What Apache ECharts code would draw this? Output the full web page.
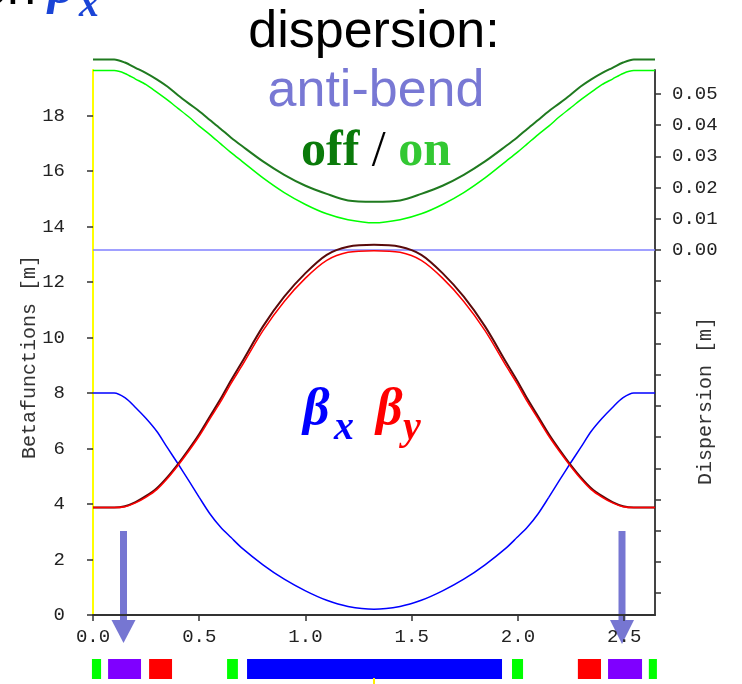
<!DOCTYPE html>
<html><head><meta charset="utf-8">
<script src="https://cdn.jsdelivr.net/npm/echarts@6/dist/echarts.min.js"></script>
<style>html,body{margin:0;padding:0;background:#fff}#c{width:742px;height:684px}</style>
</head><body><div id="c"></div>
<script>
// longitudinal position s [m]
const sPos = [0, 0.1, 0.15, 0.2, 0.25, 0.3, 0.35, 0.4, 0.45, 0.5, 0.55, 0.6, 0.65, 0.7, 0.8, 0.9, 1.0, 1.1, 1.2, 1.3225,
  1.445, 1.545, 1.645, 1.745, 1.845, 1.945, 1.995, 2.045, 2.095, 2.145, 2.195, 2.245, 2.295, 2.345, 2.395, 2.445, 2.495, 2.545, 2.645];
// beta functions [m]
const betaX = [8.0, 8.0, 7.83, 7.48, 7.08, 6.62, 6.03, 5.45, 4.85, 4.24, 3.65, 3.17, 2.79, 2.42, 1.81, 1.29, 0.87, 0.53, 0.31, 0.21,
  0.31, 0.53, 0.87, 1.29, 1.81, 2.42, 2.79, 3.17, 3.65, 4.24, 4.85, 5.45, 6.03, 6.62, 7.08, 7.48, 7.83, 8.0, 8.0];
const betaYOff = [3.87, 3.87, 3.92, 4.07, 4.29, 4.57, 4.97, 5.44, 5.96, 6.52, 7.15, 7.78, 8.46, 9.1, 10.4, 11.47, 12.32, 12.98, 13.27, 13.34,
  13.27, 12.98, 12.32, 11.47, 10.4, 9.1, 8.46, 7.78, 7.15, 6.52, 5.96, 5.44, 4.97, 4.57, 4.29, 4.07, 3.92, 3.87, 3.87];
const betaYOn = [3.87, 3.87, 3.9, 4.04, 4.25, 4.52, 4.92, 5.39, 5.9, 6.45, 7.07, 7.68, 8.35, 8.97, 10.25, 11.3, 12.14, 12.78, 13.07, 13.13,
  13.07, 12.78, 12.14, 11.3, 10.25, 8.97, 8.35, 7.68, 7.07, 6.45, 5.9, 5.39, 4.92, 4.52, 4.25, 4.04, 3.9, 3.87, 3.87];
// dispersion [m], anti-bend off / on
const dispOff = [0.0611, 0.0611, 0.0601, 0.0584, 0.0567, 0.0547, 0.0524, 0.0496, 0.0470, 0.0445, 0.0417, 0.0389, 0.0360, 0.0334, 0.0284, 0.0241, 0.0206, 0.0180, 0.0159, 0.0155,
  0.0159, 0.0180, 0.0206, 0.0241, 0.0284, 0.0334, 0.0360, 0.0389, 0.0417, 0.0445, 0.0470, 0.0496, 0.0524, 0.0547, 0.0567, 0.0584, 0.0601, 0.0611, 0.0611];
const dispOn = [0.0575, 0.0575, 0.0566, 0.0548, 0.0530, 0.0506, 0.0481, 0.0454, 0.0427, 0.0397, 0.0370, 0.0341, 0.0312, 0.0285, 0.0231, 0.0184, 0.0146, 0.0116, 0.0097, 0.0087,
  0.0097, 0.0116, 0.0146, 0.0184, 0.0231, 0.0285, 0.0312, 0.0341, 0.0370, 0.0397, 0.0427, 0.0454, 0.0481, 0.0506, 0.0530, 0.0548, 0.0566, 0.0575, 0.0575];
// vertical dispersion (zero)
const dispYs = [0, 2.645];
const dispY = [0, 0];
// lattice elements
const elemStart = [-0.005, 0.071, 0.264, 0.631, 0.725, 1.972, 2.282, 2.424, 2.616];
const elemEnd = [0.038, 0.226, 0.372, 0.682, 1.925, 2.024, 2.391, 2.584, 2.654];
const elemType = ['quad', 'antibend', 'sext', 'quad', 'bend', 'quad', 'sext', 'antibend', 'quad'];
const markerS = [1.3225];
// ticks
const xTicks = [0, 0.5, 1.0, 1.5, 2.0, 2.5];
const betaTicks = [0, 2, 4, 6, 8, 10, 12, 14, 16, 18];
const dispTicks = [-0.11, -0.10, -0.09, -0.08, -0.07, -0.06, -0.05, -0.04, -0.03, -0.02, -0.01, 0, 0.01, 0.02, 0.03, 0.04, 0.05];
const dispLabels = [0, 0.01, 0.02, 0.03, 0.04, 0.05];

const MONO = "'Liberation Mono', 'DejaVu Sans Mono', monospace";
const elemColors = { quad: '#00ff00', antibend: '#7f00ff', sext: '#ff0000', bend: '#0000ff' };
const pair = (xs, ys) => xs.map((s, i) => [s, ys[i]]);
const labelStyle = { fontFamily: MONO, fontSize: 19, color: '#222' };
const arrowColor = '#7676d2';

const chart = echarts.init(document.getElementById('c'), null, { renderer: 'canvas' });
chart.setOption({
  animation: false,
  grid: [
    { left: 93, right: 87, top: 70, bottom: 69 },
    { left: 93, right: 87, top: 659, height: 20 }
  ],
  xAxis: [
    { type: 'value', gridIndex: 0, min: 0, max: 2.645, splitLine: { show: false },
      axisLine: { onZero: false, lineStyle: { color: '#333', width: 2 } },
      axisTick: { customValues: xTicks, length: 6, lineStyle: { color: '#333', width: 1.5 } },
      axisLabel: Object.assign({ customValues: xTicks, formatter: v => v.toFixed(1), margin: 12 }, labelStyle) },
    { type: 'value', gridIndex: 1, min: 0, max: 2.645, show: false }
  ],
  yAxis: [
    { type: 'value', gridIndex: 0, position: 'left', min: 0, max: 19.64, splitLine: { show: false },
      axisLine: { show: true, onZero: false, lineStyle: { color: '#ffff00', width: 2 } },
      axisTick: { show: true, customValues: betaTicks, length: 6, lineStyle: { color: '#333', width: 1.5 } },
      axisLabel: Object.assign({ customValues: betaTicks, margin: 28 }, labelStyle) },
    { type: 'value', gridIndex: 0, position: 'right', min: -0.117, max: 0.0577, splitLine: { show: false },
      axisLine: { show: true, onZero: false, lineStyle: { color: '#444', width: 2 } },
      axisTick: { show: true, customValues: dispTicks, length: 6, lineStyle: { color: '#333', width: 1.5 } },
      axisLabel: Object.assign({ customValues: dispLabels, formatter: v => v.toFixed(2), margin: 17 }, labelStyle) },
    { type: 'value', gridIndex: 1, min: 0, max: 1, show: false }
  ],
  series: [
    { type: 'line', name: 'Dy', xAxisIndex: 0, yAxisIndex: 1, data: pair(dispYs, dispY), symbol: 'none',
      lineStyle: { color: '#8080ff', width: 1.5 }, z: 2 },
    { type: 'line', name: 'betaX', xAxisIndex: 0, yAxisIndex: 0, data: pair(sPos, betaX), symbol: 'none',
      smooth: 0.3, lineStyle: { color: '#0000ff', width: 1.5 }, z: 3 },
    { type: 'line', name: 'betaY off', xAxisIndex: 0, yAxisIndex: 0, data: pair(sPos, betaYOff), symbol: 'none',
      smooth: 0.3, lineStyle: { color: '#5a0a0a', width: 2 }, z: 4 },
    { type: 'line', name: 'betaY on', xAxisIndex: 0, yAxisIndex: 0, data: pair(sPos, betaYOn), symbol: 'none',
      smooth: 0.3, lineStyle: { color: '#ff0000', width: 1.5 }, z: 5 },
    { type: 'line', name: 'Dx off', xAxisIndex: 0, yAxisIndex: 1, data: pair(sPos, dispOff), symbol: 'none', clip: false,
      smooth: 0.3, lineStyle: { color: '#1f7a1f', width: 2 }, z: 4 },
    { type: 'line', name: 'Dx on', xAxisIndex: 0, yAxisIndex: 1, data: pair(sPos, dispOn), symbol: 'none', clip: false,
      smooth: 0.3, lineStyle: { color: '#00ff00', width: 1.5 }, z: 5 },
    { type: 'custom', name: 'elements', xAxisIndex: 1, yAxisIndex: 2, clip: false,
      data: elemStart.map((s, i) => [s, elemEnd[i]]),
      encode: { x: [0, 1] },
      renderItem: (params, api) => {
        const a = api.coord([api.value(0), 0]);
        const b = api.coord([api.value(1), 1]);
        return { type: 'rect', shape: { x: a[0], y: b[1], width: b[0] - a[0], height: a[1] - b[1] },
          style: { fill: elemColors[elemType[params.dataIndex]] } };
      } },
    { type: 'custom', name: 'marker', xAxisIndex: 1, yAxisIndex: 2, clip: false,
      data: markerS.map(s => [s]), encode: { x: 0 },
      renderItem: (params, api) => {
        const a = api.coord([api.value(0), 0]);
        return { type: 'line', shape: { x1: a[0], y1: a[1] - 1, x2: a[0], y2: a[1] + 6 },
          style: { stroke: '#ffee00', lineWidth: 2 } };
      } }
  ],
  graphic: [
    // axis titles
    { type: 'text', x: 30, y: 357, rotation: Math.PI / 2,
      style: { text: 'Betafunctions [m]', font: "20px 'Liberation Mono'", fill: '#333', align: 'center', verticalAlign: 'middle' } },
    { type: 'text', x: 706, y: 401, rotation: Math.PI / 2,
      style: { text: 'Dispersion [m]', font: "20px 'Liberation Mono'", fill: '#333', align: 'center', verticalAlign: 'middle' } },
    // annotations
    { type: 'text', x: 374, y: 33,
      style: { text: 'dispersion:', font: "52px 'Liberation Sans'", fill: '#000', align: 'center', verticalAlign: 'middle' } },
    { type: 'text', x: 376, y: 92,
      style: { text: 'anti-bend', font: "52px 'Liberation Sans'", fill: '#7878d4', align: 'center', verticalAlign: 'middle' } },
    { type: 'text', x: 376, y: 152,
      style: { text: '{a|off}{b| / }{c|on}', align: 'center', verticalAlign: 'middle',
        rich: {
          a: { font: "bold 50px 'Liberation Serif'", fill: '#0a7a0a' },
          b: { font: "50px 'Liberation Serif'", fill: '#000' },
          c: { font: "bold 50px 'Liberation Serif'", fill: '#33c833' }
        } } },
    { type: 'text', x: 303, y: 411,
      style: { text: 'β', font: "italic bold 52px 'Liberation Serif'", fill: '#0000ff', align: 'left', verticalAlign: 'middle' } },
    { type: 'text', x: 334, y: 429,
      style: { text: 'x', font: "italic bold 40px 'Liberation Serif'", fill: '#0000ff', align: 'left', verticalAlign: 'middle' } },
    { type: 'text', x: 376, y: 411,
      style: { text: 'β', font: "italic bold 52px 'Liberation Serif'", fill: '#ff0000', align: 'left', verticalAlign: 'middle' } },
    { type: 'text', x: 403, y: 429,
      style: { text: 'y', font: "italic bold 40px 'Liberation Serif'", fill: '#ff0000', align: 'left', verticalAlign: 'middle' } },
    // cut-off title at top-left
    { type: 'text', x: 36, y: -10,
      style: { text: 'on', font: "52px 'Liberation Sans'", fill: '#000', align: 'right', verticalAlign: 'middle' } },
    { type: 'text', x: 48, y: -10,
      style: { text: 'β', font: "italic bold 50px 'Liberation Serif'", fill: '#1a44d6', align: 'left', verticalAlign: 'middle' } },
    { type: 'text', x: 79, y: 6,
      style: { text: 'x', font: "italic bold 40px 'Liberation Serif'", fill: '#1a44d6', align: 'left', verticalAlign: 'middle' } },
    // arrows pointing at anti-bends
    { type: 'rect', shape: { x: 120, y: 531, width: 7, height: 90 }, style: { fill: arrowColor } },
    { type: 'polygon', shape: { points: [[111.5, 620], [135.5, 620], [123.5, 643]] }, style: { fill: arrowColor } },
    { type: 'rect', shape: { x: 618.5, y: 531, width: 7, height: 90 }, style: { fill: arrowColor } },
    { type: 'polygon', shape: { points: [[610, 620], [634, 620], [622, 644]] }, style: { fill: arrowColor } }
  ]
});
</script></body></html>
